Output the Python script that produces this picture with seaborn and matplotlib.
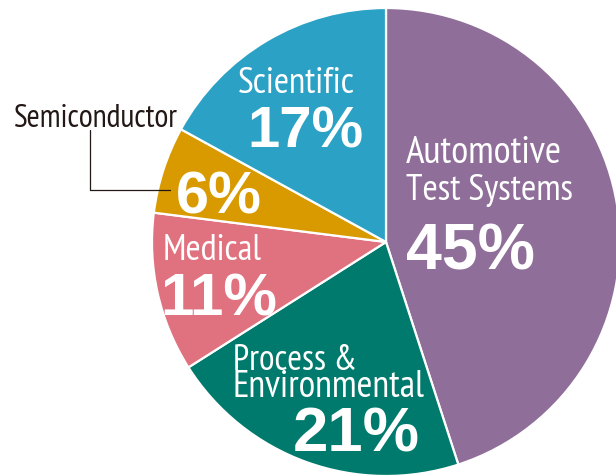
import matplotlib
matplotlib.use("Agg")
import matplotlib.pyplot as plt
import seaborn as sns
from matplotlib.lines import Line2D

# ---- data ----
categories = ["Automotive\nTest Systems", "Process &\nEnvironmental", "Medical", "Semiconductor", "Scientific"]
shares = [45, 21, 11, 6, 17]
colors = ["#8F6E9A", "#007A6C", "#E0717E", "#D99A00", "#2BA2C5"]

sns.set_theme(style="white")
plt.rcParams['font.family'] = ['Liberation Sans', 'DejaVu Sans']

W, H = 616, 475
fig = plt.figure(figsize=(W / 100, H / 100), dpi=100)
ax = fig.add_axes([0, 0, 1, 1])

cx, cy, R = 386, 242, 234  # pixel centre and radius of the pie
ax.pie(shares, colors=colors, startangle=90, counterclock=False,
       radius=1.0, wedgeprops=dict(edgecolor="white", linewidth=1.6))
ax.set_aspect("auto")
ax.set_xlim(-cx / R, (W - cx) / R)
ax.set_ylim(-(H - cy) / R, cy / R)
ax.axis("off")

label_font = ['PT Sans Narrow', 'DejaVu Sans']
pct_font = ['Liberation Sans', 'DejaVu Sans']
renderer = fig.canvas.get_renderer()


def put(left, right, base, s, ha="center", bold=False, color="white"):
    px = left if ha == "left" else (left + right) / 2
    t = fig.text(px / W, 1 - base / H, s, ha=ha, va="baseline", fontsize=24,
                 fontweight="bold" if bold else "normal", color=color,
                 family=pct_font if bold else label_font)
    target = right - left
    for _ in range(3):
        w = t.get_window_extent(renderer).width
        t.set_fontsize(t.get_fontsize() * target / w)
    return t


pct = [f"{v}%" for v in shares]
lines = [c.split("\n") for c in categories]

# Automotive
put(406, 562, 163, lines[0][0], ha="left")
put(406, 573, 200, lines[0][1], ha="left")
put(406, 535, 270, pct[0], ha="left", bold=True)
# Process & Environmental
put(233, 357, 370, lines[1][0], ha="left")
put(233, 425, 397, lines[1][1], ha="left")
put(293, 420, 452, pct[1], bold=True)
# Medical
put(163, 262, 260, lines[2][0])
put(160, 277, 315, pct[2], bold=True)
# Semiconductor
put(13, 178, 127, lines[3][0], color="#231815")
put(176, 262, 213, pct[3], bold=True)
# Scientific
put(238, 355, 93, lines[4][0])
put(247, 363, 148, pct[4], bold=True)

# leader line for Semiconductor
xs = [90 / W, 90 / W, 170 / W]
ys = [1 - 130 / H, 1 - 190 / H, 1 - 190 / H]
fig.add_artist(Line2D(xs, ys, color="#231815", linewidth=0.9, transform=fig.transFigure))

fig.savefig("out.png", dpi=100)
